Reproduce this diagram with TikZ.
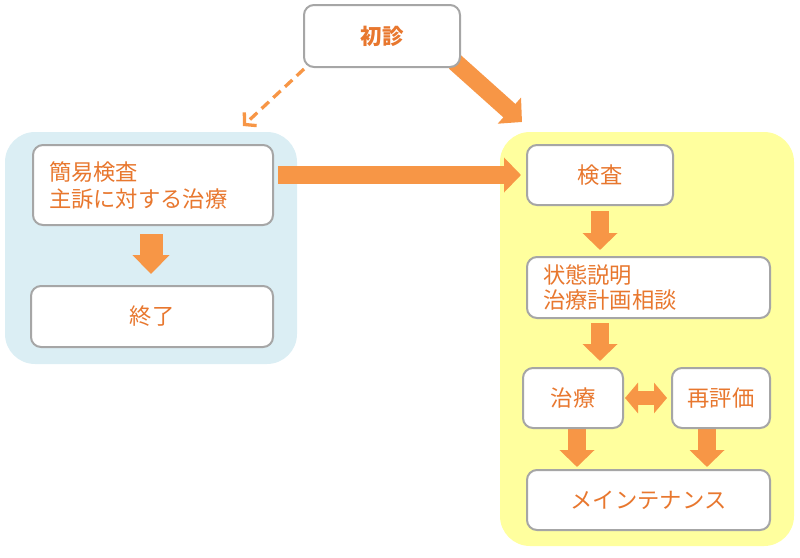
\documentclass[tikz,border=0pt]{standalone}
\usepackage{fontspec}
\setmainfont{Noto Sans CJK JP}
\usetikzlibrary{arrows.meta}
\definecolor{txt}{HTML}{E8772E}
\definecolor{arr}{HTML}{F79646}
\definecolor{bluebg}{HTML}{DBEEF4}
\definecolor{yelbg}{HTML}{FFFF9E}
\definecolor{bord}{HTML}{A6A6A6}
\pgfdeclarelayer{bg}
\pgfdeclarelayer{arrlayer}
\pgfsetlayers{bg,arrlayer,main}
\begin{document}
\begin{tikzpicture}[x=1pt,y=-1pt,
  box/.style={draw=bord, line width=2pt, rounded corners=10pt, fill=white,
    text=txt, font=\fontsize{22.3}{27}\selectfont, inner sep=0pt, align=center},
  leftbox/.style={box, align=left, inner xsep=16pt},
  region/.style={rounded corners=30pt},
  barrow/.style={draw=arr, line width=18pt, -{Triangle[width=34pt,length=17pt]}},
  bigarrow/.style={draw=arr, line width=23pt, -{Triangle[width=36pt,length=19pt]}},
  dbarrow/.style={draw=arr, line width=14pt, {Triangle[width=30pt,length=13pt]}-{Triangle[width=30pt,length=13pt]}},
  dasharrow/.style={draw=arr, line width=3.3pt, dash pattern=on 10pt off 6pt, -{Straight Barb[length=8pt,width=18pt]}},
 ]
\useasboundingbox (0,0) rectangle (800,557);

% nodes
\node[box, minimum width=156pt, minimum height=62pt, font=\fontsize{21.5}{26}\selectfont\bfseries] (shoshin) at (382,36) {初診};
\node[leftbox, text width=208pt, minimum height=80pt] (kan) at (153,185) {簡易検査\\主訴に対する治療};
\node[box, minimum width=242pt, minimum height=61pt] (shuryo) at (152,316.5) {終了};
\node[box, minimum width=146pt, minimum height=60pt] (kensa) at (600,175) {検査};
\node[leftbox, text width=211pt, minimum height=61pt, font=\fontsize{22.3}{25}\selectfont] (setsumei) at (648.5,287.5) {状態説明\\治療計画相談};
\node[box, minimum width=100pt, minimum height=60pt] (chiryo) at (573,398) {治療};
\node[box, minimum width=98pt, minimum height=60pt] (saihyoka) at (721,398) {再評価};
\node[box, minimum width=243pt, minimum height=60pt] (maint) at (648.5,500) {メインテナンス};

\coordinate (ytop) at (522,122);
\coordinate (btop) at (243,126);

% background regions
\begin{pgfonlayer}{bg}
\fill[bluebg, region] (5,132) rectangle (297,364);
\fill[yelbg, region] (500,132) rectangle (794,546);
\end{pgfonlayer}

% arrows
\begin{pgfonlayer}{arrlayer}
\draw[barrow] ([xshift=-6pt,yshift=6pt]shoshin.south east) -- (ytop);
\draw[dasharrow] ([xshift=1pt,yshift=-1pt]shoshin.south west) -- (btop);
\draw[barrow] ([xshift=4pt,yshift=10pt]kan.east) -- ([xshift=-5pt]kensa.west);
\draw[bigarrow] ([xshift=-2pt,yshift=-8pt]kan.south) -- ([xshift=-2pt,yshift=11pt]kan.south |- shuryo.north);
\draw[barrow] ([yshift=-5pt]kensa.south) -- ([yshift=6pt]kensa.south |- setsumei.north);
\draw[barrow] ([yshift=-4pt]kensa.south |- setsumei.south) -- ([yshift=6pt]kensa.south |- chiryo.north);
\draw[dbarrow] ([xshift=1pt]chiryo.east) -- ([xshift=-4pt]saihyoka.west);
\draw[barrow] ([xshift=4pt]chiryo.south) -- ([xshift=4pt,yshift=2pt]chiryo.south |- maint.north);
\draw[barrow] ([xshift=-14pt]saihyoka.south) -- ([xshift=-14pt,yshift=2pt]saihyoka.south |- maint.north);
\end{pgfonlayer}
\end{tikzpicture}
\end{document}
